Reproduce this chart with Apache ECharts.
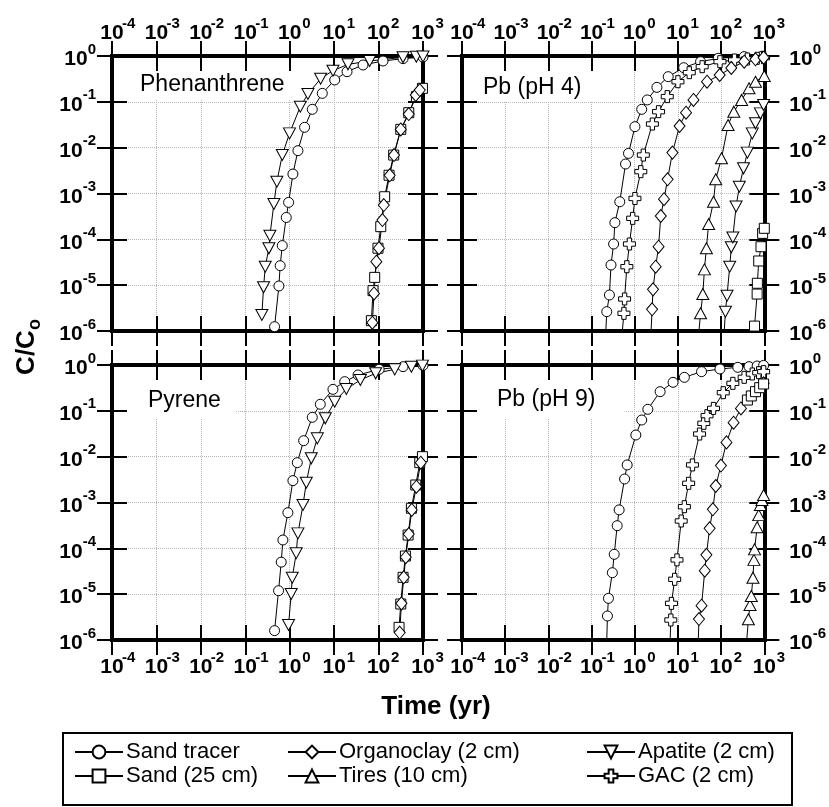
<!DOCTYPE html>
<html><head><meta charset="utf-8">
<script src="https://cdn.jsdelivr.net/npm/echarts@6/dist/echarts.min.js"></script>
<style>html,body{margin:0;padding:0;background:#fff}#c{width:829px;height:807px}</style>
</head><body><div id="c"></div>
<script>
// ---------- DATA (x: time in yr, y: C/Co) ----------
// Panel 1: Phenanthrene
const phenTracerX = [0.456, 0.571, 0.61, 0.68, 0.836, 0.944, 1.18, 1.53, 2.16, 3.22, 5.41, 10.3, 19.5, 44.7, 126, 355, 1000];
const phenTracerY = [1.24e-6, 9.6e-6, 2.66e-5, 7.3e-5, 3.0e-4, 6.4e-4, 2.66e-3, 8.6e-3, 0.0278, 0.0686, 0.153, 0.30, 0.455, 0.637, 0.778, 0.875, 0.95];
const phenApatiteX = [0.236, 0.258, 0.281, 0.34, 0.358, 0.44, 0.514, 0.68, 0.99, 1.73, 2.57, 4.96, 9.4, 20.5, 63, 355, 708, 1000];
const phenApatiteY = [2.23e-6, 8.97e-6, 2.53e-5, 6.37e-5, 1.2e-4, 5.9e-4, 1.81e-3, 6.9e-3, 0.0205, 0.0785, 0.148, 0.32, 0.479, 0.658, 0.778, 0.935, 0.967, 0.98];
const phenSandX = [68.9, 75, 81.8, 97, 112, 137, 172, 219, 316, 478, 711, 971];
const phenSandY = [1.68e-6, 7.6e-6, 1.48e-5, 6.4e-5, 1.89e-4, 8.5e-4, 2.5e-3, 6.9e-3, 0.0251, 0.058, 0.13, 0.197];
const phenOrgX = [72.5, 79, 89, 102, 122, 131, 178, 223, 316, 478, 687, 845];
const phenOrgY = [1.52e-6, 6.6e-6, 3.26e-5, 6.4e-5, 2.64e-4, 5.6e-4, 2.5e-3, 6.9e-3, 0.025, 0.054, 0.141, 0.181];

// Panel 2: Pb (pH 4)
const pb4TracerX = [0.214, 0.225, 0.259, 0.282, 0.324, 0.347, 0.45, 0.612, 0.716, 1.01, 1.45, 1.95, 3.26, 5.96, 13.6, 33.4, 86, 342, 883];
const pb4TracerY = [1e-6, 2.64e-6, 6.1e-6, 2.75e-5, 7.9e-5, 2.31e-4, 6.6e-4, 4.4e-3, 7.5e-3, 0.0287, 0.0686, 0.11, 0.207, 0.354, 0.556, 0.752, 0.89, 0.97, 0.99];
const pb4GacX = [0.516, 0.562, 0.582, 0.656, 0.753, 0.895, 1.01, 1.38, 1.58, 2.56, 3.56, 5.66, 10, 18.3, 36.4, 94, 204, 406, 682, 964];
const pb4GacY = [1e-6, 2.43e-6, 5.0e-6, 2.53e-5, 7.9e-5, 2.87e-4, 7.8e-4, 3.0e-3, 6.9e-3, 0.0328, 0.061, 0.13, 0.275, 0.433, 0.585, 0.752, 0.818, 0.86, 0.89, 0.92];
const pb4OrgX = [2.39, 2.52, 2.65, 3.05, 3.56, 4.01, 4.76, 5.76, 7.46, 10.9, 15.4, 22.9, 47.2, 92.5, 172, 342, 625, 964];
const pb4OrgY = [1e-6, 2.97e-6, 8.1e-6, 2.53e-5, 6.9e-5, 3.23e-4, 7.5e-4, 2.04e-3, 7.8e-3, 0.0297, 0.058, 0.11, 0.275, 0.385, 0.547, 0.752, 0.846, 0.92];
const pb4TiresX = [30.7, 33.4, 37.7, 41.1, 45.6, 51.4, 66.6, 75.1, 102, 145, 197, 298, 443, 625, 997];
const pb4TiresY = [1e-6, 2.43e-6, 6.4e-6, 2.21e-5, 6.4e-5, 2.16e-4, 6.6e-4, 2.04e-3, 5.85e-3, 0.0312, 0.061, 0.11, 0.197, 0.275, 0.366];
const pb4ApatiteX = [118, 126, 137, 158, 172, 187, 222, 264, 330, 406, 527, 625, 811, 963];
const pb4ApatiteY = [1e-6, 2.64e-6, 5.9e-6, 2.53e-5, 6.7e-5, 1.1e-4, 5.2e-4, 1.41e-3, 3.54e-3, 7.8e-3, 0.0205, 0.034, 0.056, 0.085];
const pb4SandX = [594, 682, 690, 743, 839, 915, 1000];
const pb4SandY = [1.28e-6, 6.4e-6, 1.1e-5, 3.37e-5, 6.9e-5, 1.35e-4, 1.74e-4];

// Panel 3: Pyrene
const pyrTracerX = [0.456, 0.561, 0.644, 0.703, 0.91, 1.18, 1.48, 2.06, 3.22, 4.88, 9.4, 17.3, 34.5, 103, 356, 1000];
const pyrTracerY = [1.6e-6, 1.19e-5, 5.0e-5, 1.52e-4, 6.0e-4, 3.0e-3, 7.4e-3, 0.0223, 0.0722, 0.139, 0.294, 0.433, 0.605, 0.804, 0.92, 0.98];
const pyrApatiteX = [0.942, 1.08, 1.14, 1.4, 1.53, 1.99, 2.36, 3.06, 4.18, 6.32, 10.3, 18.8, 38.9, 86, 231, 548, 971];
const pyrApatiteY = [2.12e-6, 1.01e-5, 2.29e-5, 7.8e-5, 2.12e-4, 8.8e-4, 2.71e-3, 9.2e-3, 0.0251, 0.0686, 0.158, 0.30, 0.471, 0.658, 0.804, 0.92, 0.97];
const pyrSandX = [289, 316, 356, 402, 462, 548, 687, 845, 971];
const pyrSandY = [1.89e-6, 6.1e-6, 2.33e-5, 6.8e-5, 1.95e-4, 7.5e-4, 2.41e-3, 7.4e-3, 0.01];
const pyrOrgX = [299, 327, 369, 409, 478, 558, 711, 891];
const pyrOrgY = [1.45e-6, 6.3e-6, 2.33e-5, 6.4e-5, 2.05e-4, 6.9e-4, 2.21e-3, 7.4e-3];

// Panel 4: Pb (pH 9)
const pb9TracerX = [0.225, 0.233, 0.246, 0.303, 0.335, 0.392, 0.435, 0.582, 0.668, 1.06, 1.45, 2.01, 3.87, 7.72, 14.1, 35.2, 94, 243, 443, 682, 964];
const pb9TracerY = [1e-6, 3.34e-6, 8.1e-6, 2.94e-5, 7.4e-5, 3.12e-4, 6.9e-4, 3.26e-3, 6.6e-3, 0.0297, 0.063, 0.108, 0.262, 0.419, 0.538, 0.716, 0.818, 0.889, 0.92, 0.95, 0.98];
const pb9GacX = [6.6, 6.84, 7.08, 8.41, 9.5, 11.9, 14.1, 17.7, 21.7, 31.7, 39.7, 47.2, 66.6, 112, 187, 342, 527, 743, 964];
const pb9GacY = [1e-6, 2.73e-6, 6.3e-6, 2.11e-5, 5.6e-5, 3.95e-4, 8.1e-4, 2.62e-3, 6.6e-3, 0.0312, 0.0534, 0.0785, 0.113, 0.249, 0.398, 0.538, 0.637, 0.68, 0.716];
const pb9OrgX = [29.6, 30.7, 35.2, 41.8, 45.6, 54.2, 64.3, 75.1, 99, 133, 194, 288, 467, 682, 811, 964];
const pb9OrgY = [1e-6, 2.87e-6, 5.6e-6, 3.26e-5, 7.2e-5, 2.73e-4, 7.1e-4, 2.29e-3, 6.4e-3, 0.0205, 0.0552, 0.113, 0.197, 0.285, 0.337, 0.398];
const pb9SandX = [406, 500, 625, 783, 964];
const pb9SandY = [0.172, 0.211, 0.262, 0.32, 0.385];
const pb9TiresX = [393, 428, 467, 500, 546, 574, 594, 682, 743, 811, 883, 964];
const pb9TiresY = [1e-6, 2.83e-6, 5.8e-6, 9.1e-6, 2.29e-5, 5.6e-5, 9.5e-5, 2.87e-4, 5.3e-4, 8.8e-4, 1.13e-3, 1.46e-3];

// Labels
const panelNames = ['Phenanthrene', 'Pb (pH 4)', 'Pyrene', 'Pb (pH 9)'];
const seriesNames = ['Sand tracer', 'Sand (25 cm)', 'Organoclay (2 cm)', 'Tires (10 cm)', 'Apatite (2 cm)', 'GAC (2 cm)'];
const xRange = [1e-4, 1e3];
const yRange = [1e-6, 1];
const xTitle = 'Time (yr)';

// ---------- CHART ----------
const FONT = '"Liberation Sans", Arial, Helvetica, sans-serif';
const grids = [
  {left: 112, top: 56, width: 311, height: 275},
  {left: 462, top: 56, width: 312, height: 275},
  {left: 112, top: 365, width: 311, height: 275},
  {left: 462, top: 365, width: 312, height: 275}
];
const rich = {
  b: {fontSize: 21, fontWeight: 'bold', lineHeight: 28, verticalAlign: 'bottom', fontFamily: FONT, color: '#000'},
  s: {fontSize: 15, fontWeight: 'bold', lineHeight: 11, verticalAlign: 'top', fontFamily: FONT, color: '#000'},
  p: {width: 10, fontSize: 15, lineHeight: 11},
  e: {fontSize: 15, fontWeight: 'bold', lineHeight: 11, verticalAlign: 'top', fontFamily: FONT, color: '#000', width: 10}
};
function ex(v) { return String(Math.round(Math.log(v) / Math.LN10)); }
function xFmt(v) { return '{p|}{b|10}{e|' + ex(v) + '}'; }
function xFmtMin(v) { return Math.abs(Math.log(v / xRange[0])) < 1e-6 ? xFmt(v) : ''; }
function yFmt(v) { return '{b|10}{s|' + ex(v) + '}'; }

const NX = 7, NY = 5;
const xAxes = [], yAxes = [];
grids.forEach((g, gi) => {
  const top = gi < 2, left = gi % 2 === 0;
  const baseX = {type: 'log', logBase: 10, gridIndex: gi, min: xRange[0], max: xRange[1], splitNumber: 7, minorTick: {show: false}};
  const baseY = {type: 'log', logBase: 10, gridIndex: gi, min: yRange[0], max: yRange[1], splitNumber: 6, minorTick: {show: false}};
  const line = {show: true, onZero: false, lineStyle: {color: '#000', width: 4, cap: 'square'}};
  const tick = (inside) => ({show: true, inside: inside, length: 15, lineStyle: {color: '#000', width: 2}});
  const off = {show: false};
  // x: data axis with grid lines
  xAxes.push(Object.assign({}, baseX, {position: 'bottom', z: 1, axisLine: off, axisTick: off, axisLabel: off,
    splitLine: {show: true, lineStyle: {type: 'dotted', color: '#b8b8b8', width: 1}}}));
  ['bottom', 'top'].forEach(pos => {
    [false, true].forEach(inside => {
      xAxes.push(Object.assign({}, baseX, {position: pos, z: 3, axisLine: line, axisTick: tick(inside), splitLine: off, axisLabel: off}));
    });
  });
  const lpos = top ? 'top' : 'bottom';
  const lmargin = top ? 12 : 10;
  xAxes.push(Object.assign({}, baseX, {position: lpos, z: 3, axisLine: {show: false, onZero: false}, axisTick: off, splitLine: off,
    axisLabel: {show: true, interval: 0, formatter: xFmt, rich: rich, margin: lmargin, showMinLabel: false, showMaxLabel: true, hideOverlap: false}}));
  xAxes.push(Object.assign({}, baseX, {position: lpos, z: 3, axisLine: {show: false, onZero: false}, axisTick: off, splitLine: off,
    axisLabel: {show: true, interval: 0, formatter: xFmtMin, rich: rich, margin: lmargin, showMinLabel: true, showMaxLabel: false, hideOverlap: false}}));
  // y
  yAxes.push(Object.assign({}, baseY, {position: 'left', z: 1, axisLine: off, axisTick: off, axisLabel: off,
    splitLine: {show: true, lineStyle: {type: 'dotted', color: '#b8b8b8', width: 1}}}));
  ['left', 'right'].forEach(pos => {
    [false, true].forEach(inside => {
      const showLab = !inside && ((pos === 'left') === left);
      yAxes.push(Object.assign({}, baseY, {position: pos, z: 3, axisLine: line, axisTick: tick(inside), splitLine: off,
        axisLabel: {show: showLab, interval: 0, formatter: yFmt, rich: rich, margin: pos === 'left' ? 16 : 25, showMinLabel: true, showMaxLabel: true, hideOverlap: false}}));
    });
  });
});

const SYM = {
  'Sand tracer': {symbol: 'circle', size: 10},
  'Sand (25 cm)': {symbol: 'rect', size: 10},
  'Organoclay (2 cm)': {symbol: 'diamond', size: [11, 13]},
  'Tires (10 cm)': {symbol: 'triangle', size: [12, 11]},
  'Apatite (2 cm)': {symbol: 'path://M0,0L12,0L6,11Z', size: [12, 11]},
  'GAC (2 cm)': {symbol: 'path://M3.5,0H7.5V3.5H11V7.5H7.5V11H3.5V7.5H0V3.5H3.5Z', size: 12}
};
function mk(name, g, xs, ys) {
  return {
    type: 'line', name: name, xAxisIndex: g * NX, yAxisIndex: g * NY,
    data: xs.map((x, i) => ys[i] <= yRange[0] ? {value: [x, ys[i]], symbol: 'none'} : [x, ys[i]]),
    symbol: SYM[name].symbol, symbolSize: SYM[name].size, showAllSymbol: true, clip: false, z: 4,
    lineStyle: {color: '#000', width: 1}, itemStyle: {color: '#fff', borderColor: '#000', borderWidth: 1},
    emphasis: {disabled: true}, silent: true, animation: false
  };
}
const N = seriesNames;
const series = [
  mk(N[0], 0, phenTracerX, phenTracerY), mk(N[4], 0, phenApatiteX, phenApatiteY),
  mk(N[1], 0, phenSandX, phenSandY), mk(N[2], 0, phenOrgX, phenOrgY),
  mk(N[0], 1, pb4TracerX, pb4TracerY), mk(N[5], 1, pb4GacX, pb4GacY), mk(N[2], 1, pb4OrgX, pb4OrgY),
  mk(N[3], 1, pb4TiresX, pb4TiresY), mk(N[4], 1, pb4ApatiteX, pb4ApatiteY), mk(N[1], 1, pb4SandX, pb4SandY),
  mk(N[0], 2, pyrTracerX, pyrTracerY), mk(N[4], 2, pyrApatiteX, pyrApatiteY),
  mk(N[1], 2, pyrSandX, pyrSandY), mk(N[2], 2, pyrOrgX, pyrOrgY),
  mk(N[0], 3, pb9TracerX, pb9TracerY), mk(N[5], 3, pb9GacX, pb9GacY), mk(N[2], 3, pb9OrgX, pb9OrgY),
  mk(N[1], 3, pb9SandX, pb9SandY), mk(N[3], 3, pb9TiresX, pb9TiresY)
];

const titleBoxes = [
  {left: 125, top: 58, padding: [14, 13, 1, 15]},
  {left: 470, top: 58, padding: [17, 31, 0, 13]},
  {left: 128, top: 367, padding: [21, 15, 4, 20]},
  {left: 478, top: 367, padding: [20, 29, 5, 19]}
];
const titles = panelNames.map((t, i) => Object.assign({
  text: t, backgroundColor: '#fff', z: 2,
  textStyle: {fontSize: 23, fontWeight: 'normal', color: '#000', fontFamily: FONT, lineHeight: 26}
}, titleBoxes[i]));

const legendCols = [[N[0], N[1]], [N[2], N[3]], [N[4], N[5]]];
const legendLefts = [74, 287, 586];
const legends = legendCols.map((d, i) => ({
  data: d, orient: 'vertical', left: legendLefts[i], top: 741, itemWidth: 48, itemHeight: 16, itemGap: 2,
  selectedMode: false, padding: 0,
  textStyle: {fontSize: 22, color: '#000', fontFamily: FONT, lineHeight: 22, padding: [0, 0, 0, -2]}
}));

const chart = echarts.init(document.getElementById('c'), null, {renderer: 'canvas'});
chart.setOption({
  animation: false,
  backgroundColor: '#fff',
  title: titles,
  legend: legends,
  grid: grids,
  xAxis: xAxes,
  yAxis: yAxes,
  series: series,
  graphic: [
    {type: 'rect', shape: {x: 63, y: 733, width: 729, height: 72}, style: {fill: 'none', stroke: '#000', lineWidth: 2}, z: 10},
    {type: 'text', x: 436, y: 707, z: 10, style: {text: xTitle, fill: '#000', font: 'bold 26px ' + FONT, align: 'center', verticalAlign: 'middle'}},
    {type: 'text', x: 29, y: 347, rotation: Math.PI / 2, z: 10, style: {
      text: '{a|C/C}{o|o}', align: 'center', verticalAlign: 'middle', fill: '#000',
      rich: {a: {fontSize: 26, fontWeight: 'bold', lineHeight: 30, verticalAlign: 'top', fontFamily: FONT, fill: '#000'},
             o: {fontSize: 18, fontWeight: 'bold', lineHeight: 18, padding: [20, 0, 0, 0], verticalAlign: 'bottom', fontFamily: FONT, fill: '#000'}}
    }}
  ]
});
</script>
</body></html>
